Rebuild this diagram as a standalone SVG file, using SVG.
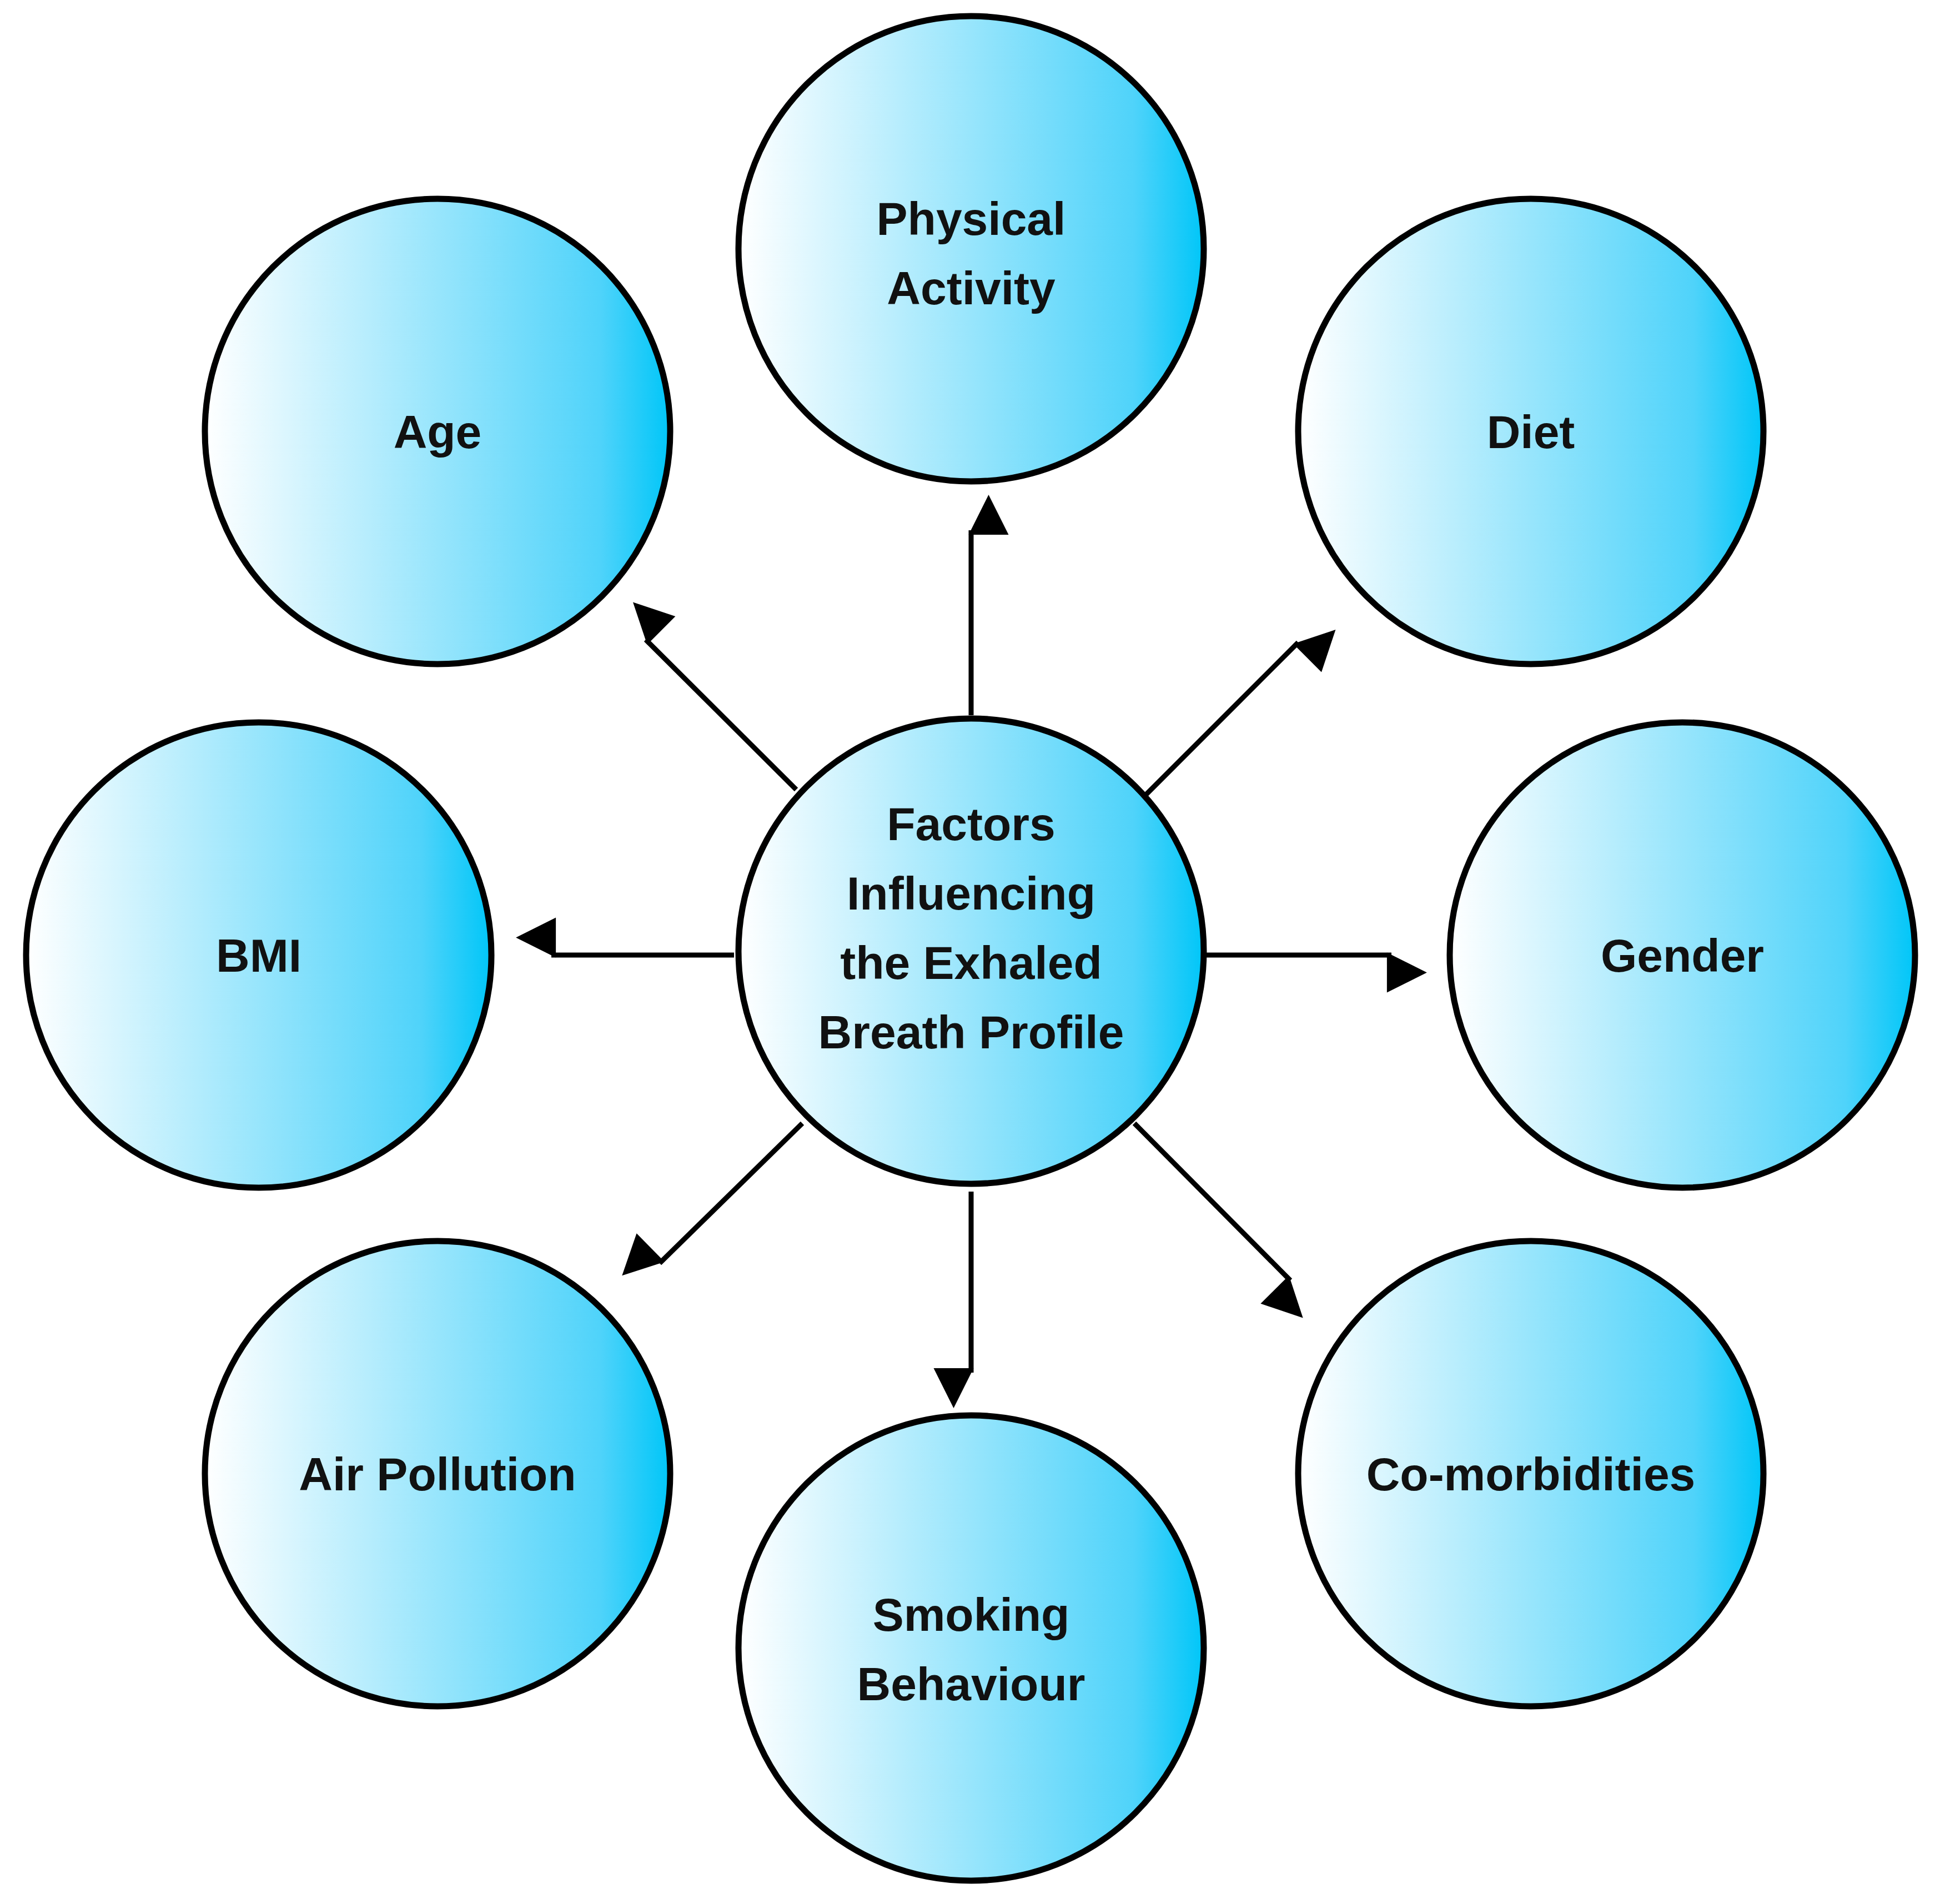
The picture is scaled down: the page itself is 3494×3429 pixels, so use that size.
<svg xmlns="http://www.w3.org/2000/svg" width="3494" height="3429" viewBox="0 0 3494 3429">
<defs>
<linearGradient id="g" x1="0" y1="0" x2="1" y2="0">
<stop offset="0" stop-color="#ffffff"/>
<stop offset="0.85" stop-color="#4fd3fa"/>
<stop offset="1" stop-color="#00c6f8"/>
</linearGradient>
<marker id="ah" viewBox="0 0 10 10" refX="9" refY="5" markerWidth="9" markerHeight="9" markerUnits="userSpaceOnUse" orient="auto" style="overflow:visible">
<path d="M0,0 L10,5 L0,10 z" fill="#000" transform="scale(8)"/>
</marker>
<style>
circle{fill:url(#g);stroke:#000;stroke-width:11}
text{font-family:"Liberation Sans",Arial,sans-serif;font-weight:bold;font-size:84px;fill:#111;text-anchor:middle}
line{stroke:#000;stroke-width:9}
</style>
</defs>
<rect width="3494" height="3429" fill="#fff"/>
<g id="connectors">
<line x1="1749" y1="1288" x2="1749" y2="955" marker-end="url(#ah)"/>
<line x1="1322" y1="1720" x2="993" y2="1720" marker-end="url(#ah)"/>
<line x1="2173" y1="1720" x2="2506" y2="1720" marker-end="url(#ah)"/>
<line x1="1749" y1="2146" x2="2749" y2="2146" style="display:none"/>
<line x1="1749" y1="2146" x2="1749" y2="2472" marker-end="url(#ah)"/>
<line x1="1434" y1="1422" x2="1163" y2="1152" marker-end="url(#ah)"/>
<line x1="2061" y1="1434" x2="2338" y2="1157" marker-end="url(#ah)"/>
<line x1="1445" y1="2023" x2="1188" y2="2275" marker-end="url(#ah)"/>
<line x1="2043" y1="2023" x2="2324" y2="2306" marker-end="url(#ah)"/>
</g>
<g id="center"><circle cx="1749" cy="1713" r="419"/>
<text x="1749" y="1513">Factors</text><text x="1749" y="1638">Influencing</text><text x="1749" y="1763">the Exhaled</text><text x="1749" y="1888">Breath Profile</text></g>
<g id="physical"><circle cx="1749" cy="448" r="419"/><text x="1749" y="423">Physical</text><text x="1749" y="548">Activity</text></g>
<g id="age"><circle cx="788" cy="777" r="419"/><text x="788" y="807">Age</text></g>
<g id="diet"><circle cx="2757" cy="777" r="419"/><text x="2757" y="807">Diet</text></g>
<g id="bmi"><circle cx="466" cy="1720" r="419"/><text x="466" y="1750">BMI</text></g>
<g id="gender"><circle cx="3030" cy="1720" r="419"/><text x="3030" y="1750">Gender</text></g>
<g id="air"><circle cx="788" cy="2654" r="419"/><text x="788" y="2684">Air Pollution</text></g>
<g id="comorb"><circle cx="2757" cy="2654" r="419"/><text x="2757" y="2684">Co-morbidities</text></g>
<g id="smoking"><circle cx="1749" cy="2968" r="419"/><text x="1749" y="2937">Smoking</text><text x="1749" y="3062">Behaviour</text></g>
</svg>
